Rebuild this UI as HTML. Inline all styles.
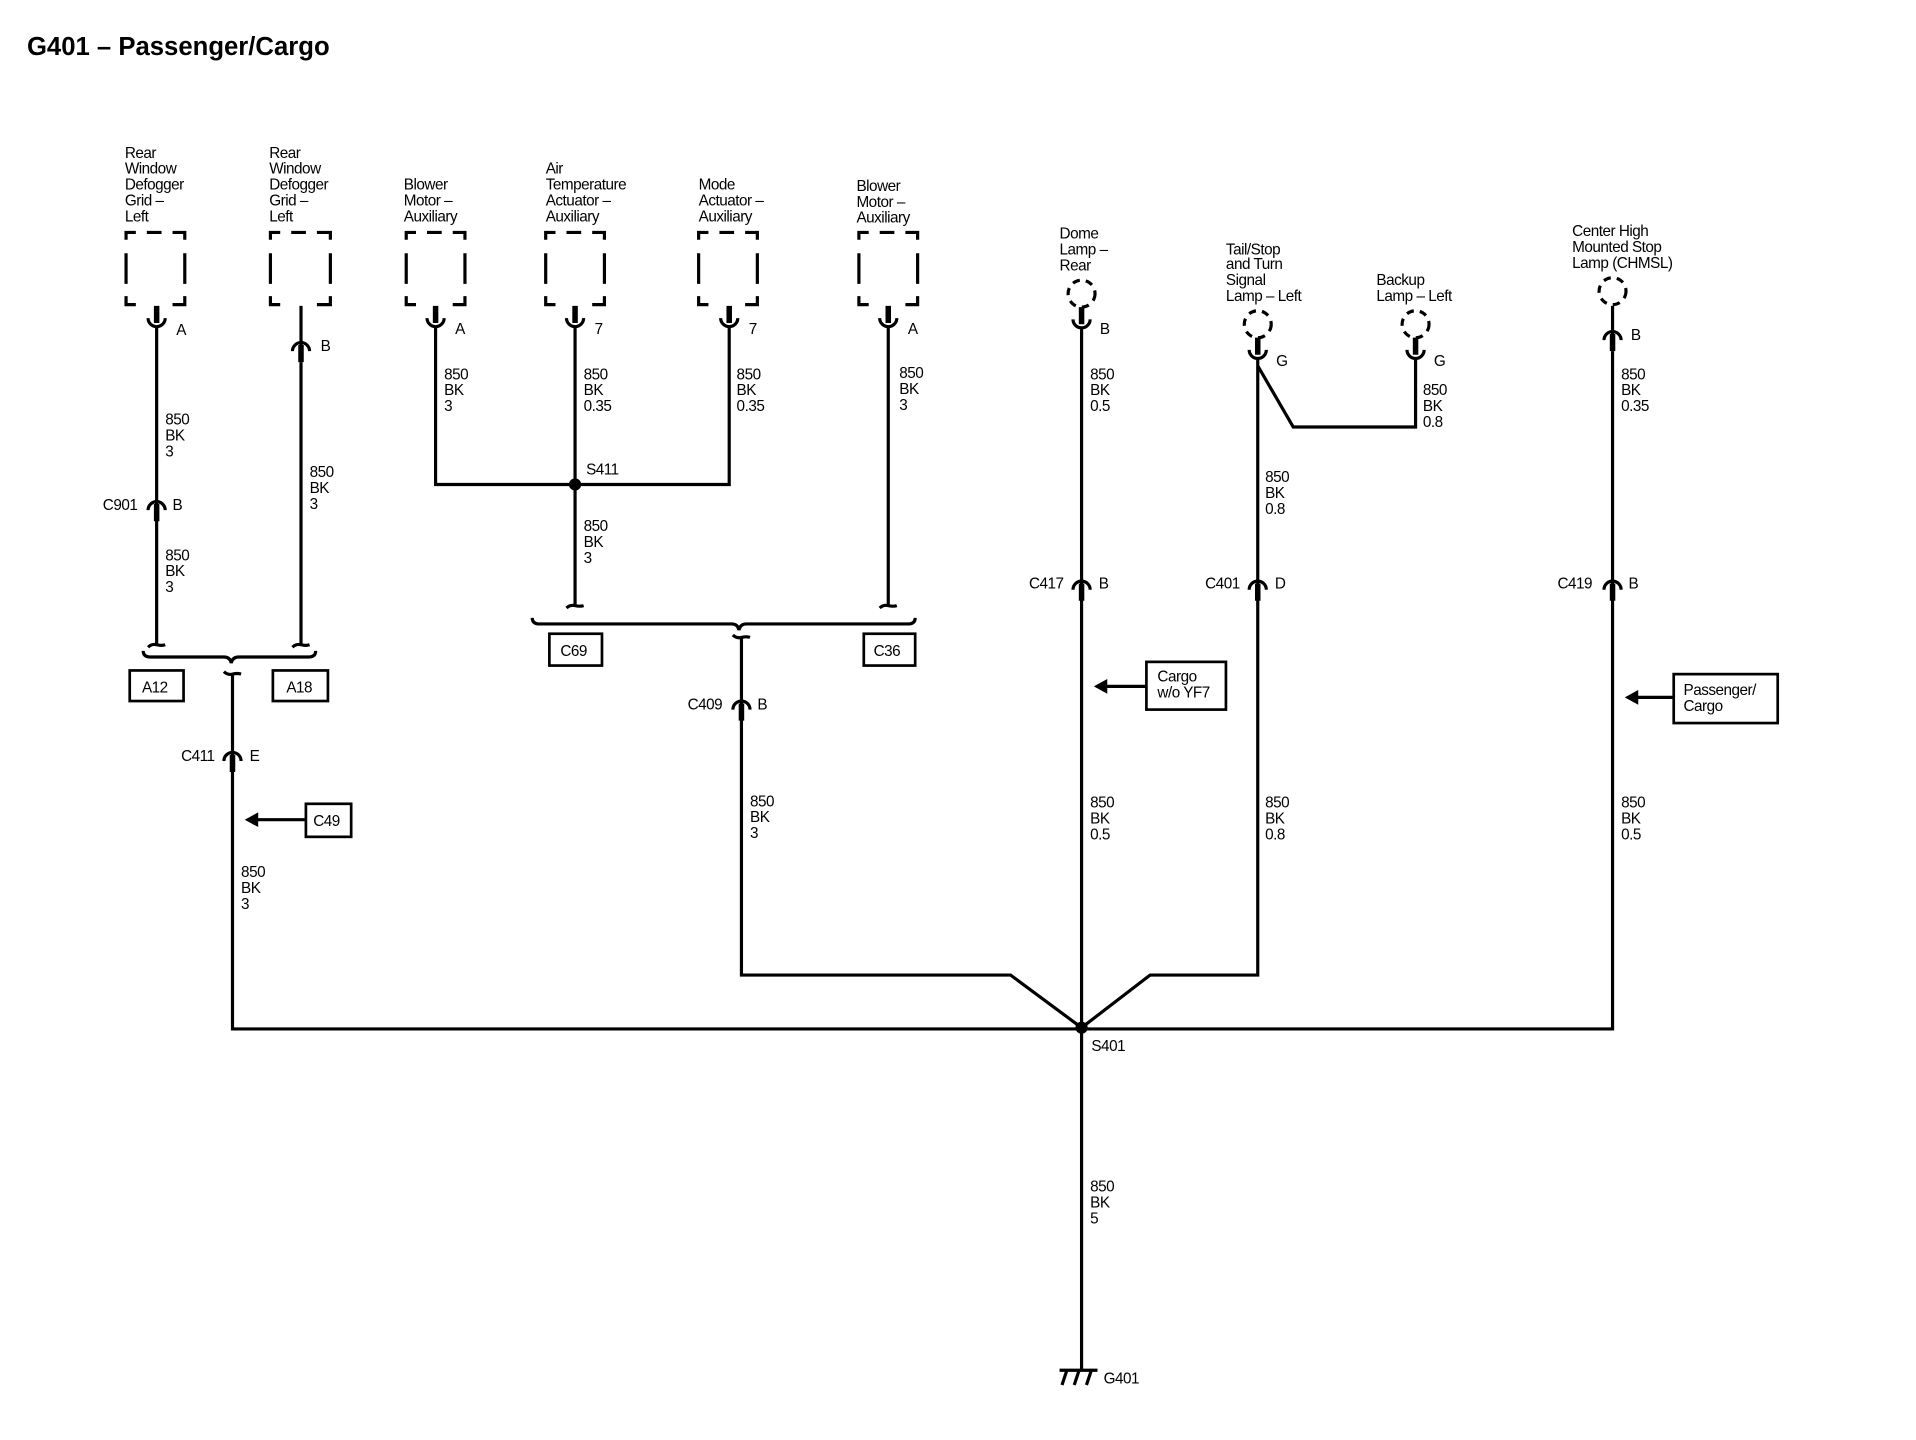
<!DOCTYPE html>
<html><head><meta charset="utf-8"><style>
html,body{margin:0;padding:0;background:#fff;}
svg{display:block;}
text{font-family:"Liberation Sans",Arial,sans-serif;font-size:12.5px;fill:#000;letter-spacing:-0.4px;}
.t{font-weight:bold;font-size:21px;letter-spacing:0;}
.w{stroke:#000;stroke-width:2.6;fill:none;}
.s{stroke:#000;stroke-width:4.5;fill:none;}
.b{stroke:#000;stroke-width:2.2;fill:#fff;}
</style></head><body>
<svg width="1916" height="1440" viewBox="0 0 1566 1177" xmlns="http://www.w3.org/2000/svg">
<text class="t" x="22" y="45">G401 – Passenger/Cargo</text>

<g class="w">
<path d="M103,196 v-6 h8 M120,190 h12 M141,190 h10 v6 M103,207 v25 M151,207 v25 M103,242 v7 h8 M141,249 h10 v-7"/>
<path d="M221,196 v-6 h8 M238,190 h12 M259,190 h11 v6 M221,207 v25 M270,207 v25 M221,242 v7 h8 M259,249 h11 v-7"/>
<path d="M332,196 v-6 h8 M349,190 h12 M370,190 h10 v6 M332,207 v25 M380,207 v25 M332,242 v7 h8 M370,249 h10 v-7"/>
<path d="M446,196 v-6 h8 M463,190 h12 M484,190 h10 v6 M446,207 v25 M494,207 v25 M446,242 v7 h8 M484,249 h10 v-7"/>
<path d="M571,196 v-6 h8 M588,190 h12 M609,190 h10 v6 M571,207 v25 M619,207 v25 M571,242 v7 h8 M609,249 h10 v-7"/>
<path d="M702,196 v-6 h8 M719,190 h12 M740,190 h10 v6 M702,207 v25 M750,207 v25 M702,242 v7 h8 M740,249 h10 v-7"/>
</g>
<g class="w" stroke-dasharray="6 5">
<circle cx="884" cy="240" r="11"/>
<circle cx="1028" cy="265" r="11"/>
<circle cx="1157" cy="265" r="11"/>
<circle cx="1318" cy="238" r="11"/>
</g>

<g class="s">
<path d="M128,250 v14 M356,250 v14 M470,250 v14 M596,250 v14 M726,250 v14 M884,251 v14 M1028,276 v14 M1157,276 v14"/>
</g>
<g class="w">
<path d="M121,260 a7,7 0 0 0 14,0 M349,260 a7,7 0 0 0 14,0 M463,260 a7,7 0 0 0 14,0 M589,260 a7,7 0 0 0 14,0 M719,260 a7,7 0 0 0 14,0 M877,261 a7,7 0 0 0 14,0 M1021,286 a7,7 0 0 0 14,0 M1150,286 a7,7 0 0 0 14,0"/>
</g>

<g class="w">
<path d="M239,287 a7,7 0 0 1 14,0 M121,417 a7,7 0 0 1 14,0 M183,622 a7,7 0 0 1 14,0 M599,580 a7,7 0 0 1 14,0 M877,482 a7,7 0 0 1 14,0 M1021,482 a7,7 0 0 1 14,0 M1311,278 a7,7 0 0 1 14,0 M1311,482 a7,7 0 0 1 14,0"/>
</g>
<g class="s">
<path d="M246,282 v14 M128,412 v14 M190,617 v14 M606,575 v14 M884,477 v14 M1028,477 v14 M1318,273 v14 M1318,477 v14"/>
</g>

<g class="w">
<path d="M128,268 V527"/>
<path d="M246,250 V282 M246,296 V527"/>
<path d="M356,268 V396 H596 V268"/>
<path d="M470,268 V495"/>
<path d="M726,268 V495"/>
<path d="M190,550 V841 H1318 V287"/>
<path d="M1318,250 V273"/>
<path d="M606,520 V797 H826 L884,840 L940,797 H1028 V294"/>
<path d="M884,269 V1120"/>
<path d="M1028,299 L1057,349 H1157 V294"/>
<path d="M866,1120 H897 M872,1120 l-4,12 M882,1120 l-4,12 M892,1120 l-4,12"/>
<path d="M121,529 q3,-3 7,-2 t7,0 M239,529 q3,-3 7,-2 t7,0 M463,497 q3,-3 7,-2 t7,0 M719,497 q3,-3 7,-2 t7,0"/>
<path d="M183,549 q3,3 7,2 t7,0 M599,519 q3,3 7,2 t7,0"/>
<path d="M117,532 q0,5 6,5 H183 q5,0 6,5 q1,-5 6,-5 H252 q6,0 6,-5"/>
<path d="M435,505 q0,5 6,5 H598 q5,0 6,5 q1,-5 6,-5 H742 q6,0 6,-5"/>
<path d="M250,670 H208 M937,561 H904 M1368,570 H1338"/>
</g>
<g fill="#000">
<circle cx="470" cy="396" r="5"/>
<circle cx="884" cy="840" r="5"/>
<path d="M200,670 l11,-6 v12 z M894,561 l11,-6 v12 z M1328,570 l11,-6 v12 z"/>
</g>
<g class="b">
<rect x="106" y="548" width="44" height="25"/>
<rect x="223" y="548" width="45" height="25"/>
<rect x="449" y="518" width="43" height="26"/>
<rect x="706" y="518" width="42" height="26"/>
<rect x="250" y="657" width="37" height="27"/>
<rect x="937" y="541" width="65" height="39"/>
<rect x="1368" y="551" width="85" height="40"/>
</g>
<text x="116" y="566">A12</text><text x="234" y="566">A18</text>
<text x="458" y="536">C69</text><text x="714" y="536">C36</text>
<text x="256" y="675">C49</text>
<text x="946" y="557">Cargo</text><text x="946" y="570">w/o YF7</text>
<text x="1376" y="568">Passenger/</text><text x="1376" y="581">Cargo</text>

<text x="102" y="129">Rear</text><text x="102" y="142">Window</text><text x="102" y="155">Defogger</text><text x="102" y="168">Grid –</text><text x="102" y="181">Left</text>
<text x="220" y="129">Rear</text><text x="220" y="142">Window</text><text x="220" y="155">Defogger</text><text x="220" y="168">Grid –</text><text x="220" y="181">Left</text>
<text x="330" y="155">Blower</text><text x="330" y="168">Motor –</text><text x="330" y="181">Auxiliary</text>
<text x="446" y="142">Air</text><text x="446" y="155">Temperature</text><text x="446" y="168">Actuator –</text><text x="446" y="181">Auxiliary</text>
<text x="571" y="155">Mode</text><text x="571" y="168">Actuator –</text><text x="571" y="181">Auxiliary</text>
<text x="700" y="156">Blower</text><text x="700" y="169">Motor –</text><text x="700" y="182">Auxiliary</text>
<text x="866" y="195">Dome</text><text x="866" y="208">Lamp –</text><text x="866" y="221">Rear</text>
<text x="1002" y="208">Tail/Stop</text><text x="1002" y="220">and Turn</text><text x="1002" y="233">Signal</text><text x="1002" y="246">Lamp – Left</text>
<text x="1125" y="233">Backup</text><text x="1125" y="246">Lamp – Left</text>
<text x="1285" y="193">Center High</text><text x="1285" y="206">Mounted Stop</text><text x="1285" y="219">Lamp (CHMSL)</text>

<text x="144" y="274">A</text><text x="262" y="287">B</text><text x="372" y="273">A</text>
<text x="486" y="273">7</text><text x="612" y="273">7</text><text x="742" y="273">A</text>
<text x="899" y="273">B</text><text x="1043" y="299">G</text><text x="1172" y="299">G</text><text x="1333" y="278">B</text>
<text x="84" y="417">C901</text><text x="141" y="417">B</text>
<text x="148" y="622">C411</text><text x="204" y="622">E</text>
<text x="562" y="580">C409</text><text x="619" y="580">B</text>
<text x="841" y="481">C417</text><text x="898" y="481">B</text>
<text x="985" y="481">C401</text><text x="1042" y="481">D</text>
<text x="1273" y="481">C419</text><text x="1331" y="481">B</text>
<text x="479" y="388">S411</text>
<text x="892" y="859">S401</text>
<text x="902" y="1131">G401</text>

<g>
<text x="135" y="347">850</text><text x="135" y="360">BK</text><text x="135" y="373">3</text>
<text x="135" y="458">850</text><text x="135" y="471">BK</text><text x="135" y="484">3</text>
<text x="253" y="390">850</text><text x="253" y="403">BK</text><text x="253" y="416">3</text>
<text x="197" y="717">850</text><text x="197" y="730">BK</text><text x="197" y="743">3</text>
<text x="363" y="310">850</text><text x="363" y="323">BK</text><text x="363" y="336">3</text>
<text x="477" y="310">850</text><text x="477" y="323">BK</text><text x="477" y="336">0.35</text>
<text x="477" y="434">850</text><text x="477" y="447">BK</text><text x="477" y="460">3</text>
<text x="602" y="310">850</text><text x="602" y="323">BK</text><text x="602" y="336">0.35</text>
<text x="735" y="309">850</text><text x="735" y="322">BK</text><text x="735" y="335">3</text>
<text x="613" y="659">850</text><text x="613" y="672">BK</text><text x="613" y="685">3</text>
<text x="891" y="310">850</text><text x="891" y="323">BK</text><text x="891" y="336">0.5</text>
<text x="891" y="660">850</text><text x="891" y="673">BK</text><text x="891" y="686">0.5</text>
<text x="891" y="974">850</text><text x="891" y="987">BK</text><text x="891" y="1000">5</text>
<text x="1163" y="323">850</text><text x="1163" y="336">BK</text><text x="1163" y="349">0.8</text>
<text x="1034" y="394">850</text><text x="1034" y="407">BK</text><text x="1034" y="420">0.8</text>
<text x="1034" y="660">850</text><text x="1034" y="673">BK</text><text x="1034" y="686">0.8</text>
<text x="1325" y="310">850</text><text x="1325" y="323">BK</text><text x="1325" y="336">0.35</text>
<text x="1325" y="660">850</text><text x="1325" y="673">BK</text><text x="1325" y="686">0.5</text>
</g>
</svg>
</body></html>
